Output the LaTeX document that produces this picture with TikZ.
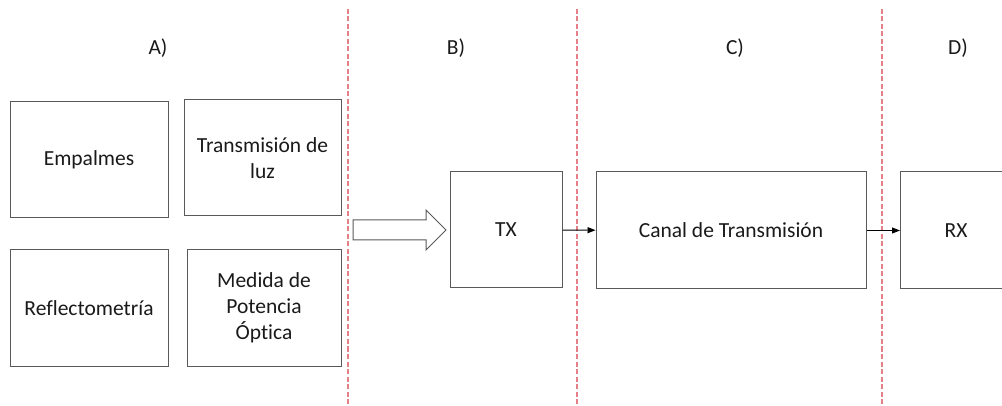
\documentclass[tikz,border=0pt]{standalone}
\usepackage{fontspec}
\setmainfont{Carlito}[Ligatures=NoCommon]
\usetikzlibrary{arrows.meta}
\definecolor{boxgray}{HTML}{595959}
\definecolor{dashred}{HTML}{E57F88}
\definecolor{textgray}{HTML}{1A1A1A}
\begin{document}
\begin{tikzpicture}[x=1pt, y=-1pt,
    blockbox/.style={draw=boxgray, line width=1pt, inner sep=0pt, align=center,
      text=textgray, font=\fontsize{21.5}{26}\selectfont},
    sepline/.style={dashred, line width=1.1pt, dash pattern=on 5pt off 2.5pt},
    flow/.style={-{Triangle[length=8pt,width=6pt]}, line width=0.9pt, black},
    title/.style={text=textgray, font=\fontsize{21.5}{26}\selectfont}]
    \useasboundingbox (0,0) rectangle (1002,406);
    % part A
    \node [blockbox, minimum width=158pt, minimum height=116pt] (empalmes) at (89,160) {Empalmes};
    \node [blockbox, minimum width=157pt, minimum height=116pt] (luz) at (262.5,158) {Transmisión de\\luz};
    \node [blockbox, minimum width=158pt, minimum height=116pt] (reflecto) at (89,308) {Reflectometría};
    \node [blockbox, minimum width=154pt, minimum height=116pt] (potencia) at (264,308) {Medida de\\Potencia\\Óptica};
    % section separators
    \draw [sepline] (348,9) -- (348,406);
    \draw [sepline] (577,9) -- (577,406);
    \draw [sepline] (882,9) -- (882,406);
    % titles
    \node [title] (ta) at (158,48) {A)};
    \node [title] (tb) at (456,48) {B)};
    \node [title] (tc) at (735,48) {C)};
    \node [title] (td) at (958,48) {D)};
    % hollow arrow
    \draw [draw=boxgray, line width=1pt, fill=white] (353,220) -- (426,220) -- (426,210) -- (446,230)
      -- (426,250) -- (426,240) -- (353,240) -- cycle;
    % parts B, C, D
    \node [blockbox, minimum width=112pt, minimum height=116pt] (tx) at (506,230) {TX};
    \node [blockbox, minimum width=270pt, minimum height=117pt] (canal) at (731,230.5) {Canal de Transmisión};
    \node [blockbox, minimum width=111pt, minimum height=117pt, anchor=west] (rx) at (900,230.5) {RX};
    \draw [flow] (tx) -- (canal);
    \draw [flow] (canal) -- (rx);
\end{tikzpicture}
\end{document}
